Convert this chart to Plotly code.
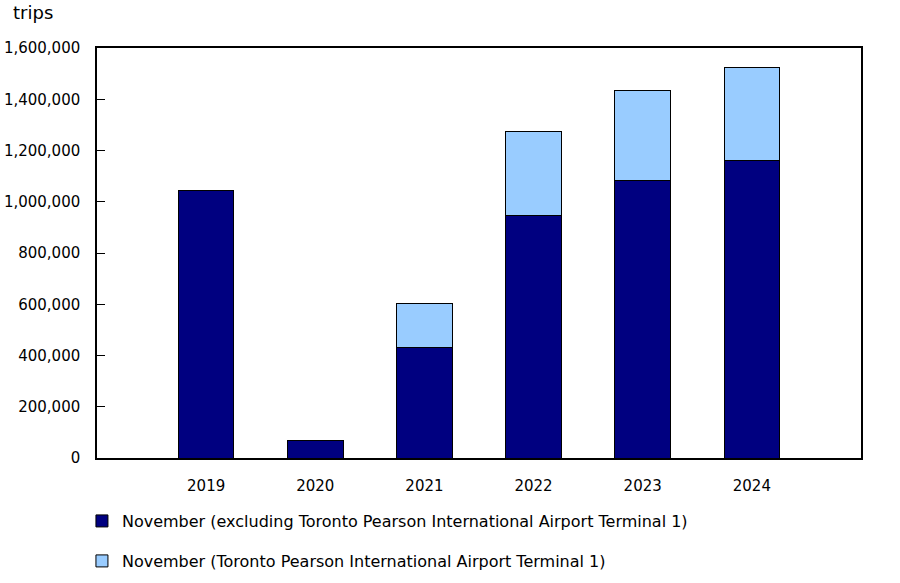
import plotly.graph_objects as go

years = ["2019", "2020", "2021", "2022", "2023", "2024"]
excl_t1 = [1044000, 68000, 432000, 946000, 1084000, 1162000]
t1 = [None, None, 169000, 327000, 352000, 360000]

name_excl = "November (excluding Toronto Pearson International Airport Terminal 1)"
name_t1 = "November (Toronto Pearson International Airport Terminal 1)"

family = "DejaVu Sans, Verdana, sans-serif"
font = dict(family=family, size=15, color="black")
legend_font = dict(family=family, size=16, color="black")

fig = go.Figure()
fig.add_trace(go.Bar(
    x=years, y=excl_t1, name=name_excl,
    marker=dict(color="#000080", line=dict(color="black", width=1)),
    legend="legend",
))
fig.add_trace(go.Bar(
    x=years, y=t1, name=name_t1,
    marker=dict(color="#99CCFF", line=dict(color="black", width=1)),
    legend="legend2",
))

fig.update_layout(
    width=900, height=583,
    margin=dict(l=97, r=39, t=48, b=125),
    barmode="stack",
    bargap=0.49,
    plot_bgcolor="white",
    paper_bgcolor="white",
    font=font,
    showlegend=True,
    legend=dict(x=-0.0197, y=0.1063, yref="container",
                xanchor="left", yanchor="middle",
                font=legend_font, bgcolor="rgba(0,0,0,0)"),
    legend2=dict(x=-0.0197, y=0.0377, yref="container",
                 xanchor="left", yanchor="middle",
                 font=legend_font, bgcolor="rgba(0,0,0,0)"),
    annotations=[dict(text="trips", xref="paper", yref="paper",
                      x=-0.1127, y=1.0878, xanchor="left", yanchor="middle",
                      showarrow=False, font=dict(family=family, size=18))],
)
fig.update_xaxes(
    type="category", range=[-1, 6], automargin=False,
    showline=True, linecolor="black", linewidth=1.5, mirror=True,
    ticks="", showgrid=False, tickfont=font, ticklabelstandoff=13,
)
fig.update_yaxes(
    range=[0, 1600000], dtick=200000, tickformat=",d", automargin=False,
    showline=True, linecolor="black", linewidth=1.5, mirror=True,
    ticks="inside", ticklen=8, tickcolor="black",
    showgrid=False, zeroline=False, tickfont=font, ticklabelstandoff=12,
)

# drop the default 8px body margin so the figure sits at the page corner
fig.write_html("out.html", config={"displayModeBar": False},
               post_script="document.body.style.margin='0';")
